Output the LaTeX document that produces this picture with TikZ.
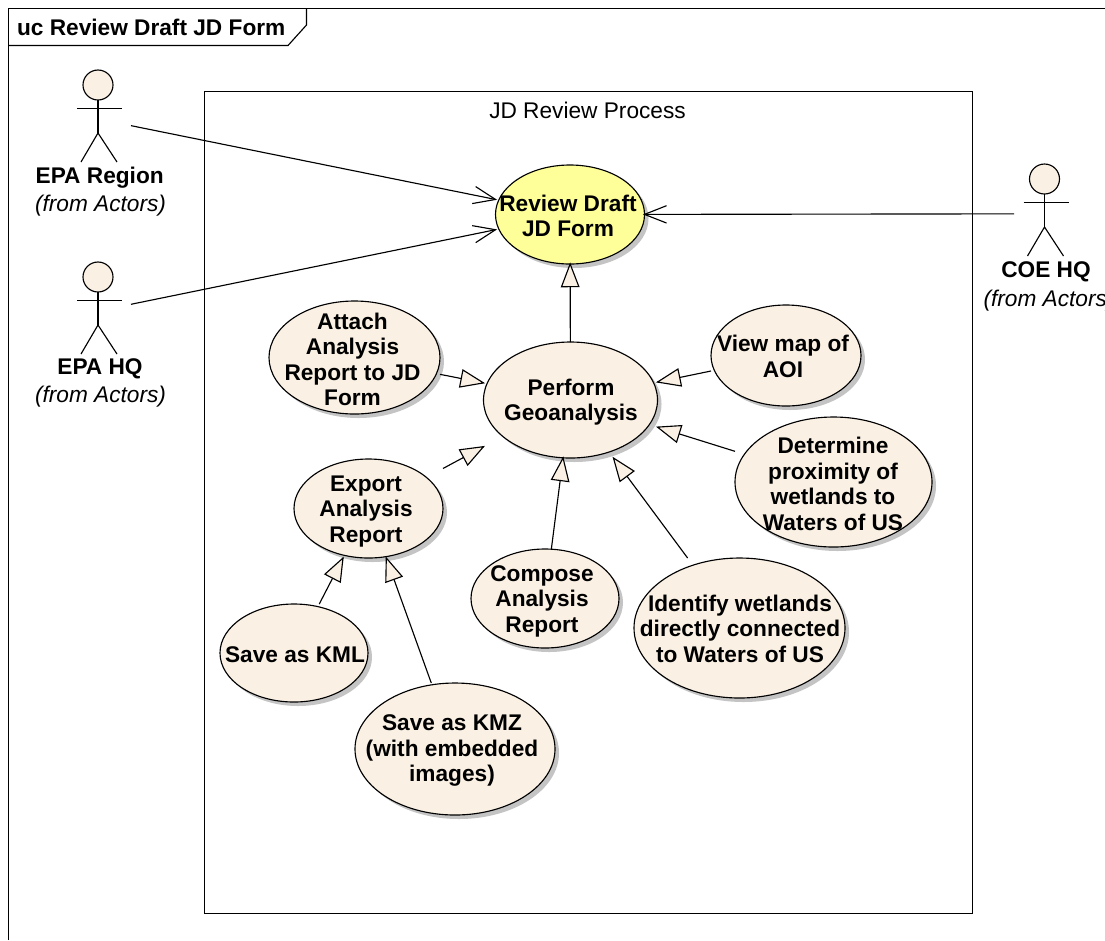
\documentclass[tikz,border=0pt]{standalone}
\usepackage{fontspec}
\setmainfont{Liberation Sans}
\usetikzlibrary{shapes.geometric,calc}
\definecolor{ucfill}{HTML}{FAF1E4}
\definecolor{ucyellow}{HTML}{FFFF99}
\definecolor{ucshadow}{HTML}{C4C4C4}
\tikzset{
  x=0.75pt,y=-0.75pt,
  usecase/.style={ellipse,draw=black,inner sep=0pt,outer sep=0pt},
  caselabel/.style={align=center,inner sep=0pt,font=\fontsize{17pt}{19.1pt}\selectfont\bfseries},
  routebox/.style={rectangle,inner sep=0pt,outer sep=0pt},
  plain/.style={inner sep=0pt,font=\fontsize{17pt}{19pt}\selectfont},
  actorname/.style={font=\fontsize{17pt}{19pt}\selectfont\bfseries,inner sep=0pt},
  actorfrom/.style={font=\fontsize{17pt}{19pt}\selectfont\itshape,inner sep=0pt},
  tabtitle/.style={anchor=west,inner sep=0pt,font=\fontsize{17pt}{19pt}\selectfont\bfseries},
}
% usecase: name, cx, cy, rx, ry, fill, text x, text y, text
\newcommand{\ucase}[9]{%
  \fill[ucshadow] (#2+4,#3+4) ellipse [x radius=#4*0.75pt,y radius=#5*0.75pt];
  \node[usecase,fill=#6,minimum width=#4*1.5pt,minimum height=#5*1.5pt] (#1) at (#2,#3) {};
  \node[routebox,minimum width=#4*1.5pt,minimum height=#5*1.5pt] (#1box) at (#2,#3) {};
  \node[caselabel] (#1text) at (#7,#8) {#9};
}
% actor: name, head cx, head cy, box cx, box cy, box half width
\newcommand{\actor}[6]{%
  \node[circle,draw=black,fill=ucfill,minimum size=22.5pt,inner sep=0pt,outer sep=0pt] (#1) at (#2,#3) {};
  \coordinate (#1hip) at (#2,#3+48);
  \draw (#1.south) -- (#1hip);
  \draw (#2-21,#3+23.5) -- (#2+24,#3+23.5);
  \draw (#2-17,#3+77) -- (#1hip) -- (#2+19,#3+77);
  \node[routebox,minimum width=#6*1.5pt,minimum height=69pt] (#1box) at (#4,#5) {};
}
% generalisation: hollow triangle head
\newcommand{\genarrow}[2]{%
  \path (#1box) -- (#2box) coordinate[pos=0] (gA) coordinate[pos=1] (gB);
  \draw (#1box) -- (#2box);
  \coordinate (gM) at ($(gB)!17pt!(gA)$);
  \filldraw[fill=ucfill,line join=miter]
   (gB) -- ($(gM)!6.5pt!90:(gB)$) -- ($(gM)!6.5pt!-90:(gB)$) -- cycle;
}
% association: open head
\newcommand{\openarrow}[2]{%
  \path (#1box) -- (#2box) coordinate[pos=0] (gA) coordinate[pos=1] (gB);
  \draw (#1box) -- (#2box);
  \coordinate (gM) at ($(gB)!16.5pt!(gA)$);
  \draw ($(gM)!6.5pt!90:(gB)$) -- (gB) -- ($(gM)!6.5pt!-90:(gB)$);
}
\begin{document}
\begin{tikzpicture}[line width=0.85pt]
\useasboundingbox (0,0) rectangle (1105,940);
\fill[white] (0,0) rectangle (1105,940);
% frame
\draw (8.5,940) -- (8.5,8.5) -- (1105,8.5);
\draw (8.5,45.5) -- (288,45.5) -- (306.5,25) -- (306.5,8.5);
\node[tabtitle] (title) at (16.5,27) {uc Review Draft JD Form};
% boundary
\draw (204.5,91.5) rectangle (972.5,913.5);
\node[plain] (boundary) at (587.5,110) {JD Review Process};
% actors
\actor{epar}{98}{85}{98}{119}{33}
\node[actorname] (eparname) at (99.7,177.5) {EPA Region};
\node[actorfrom] (eparfrom) at (100.5,206) {(from Actors)};
\actor{epah}{98}{277}{98}{311}{33}
\node[actorname] (epahname) at (100,368.5) {EPA HQ};
\node[actorfrom] (epahfrom) at (100.5,397) {(from Actors)};
\actor{coe}{1044.5}{179}{1046}{213.8}{32}
\node[actorname] (coename) at (1046,272) {COE HQ};
\node[actorfrom,anchor=west] (coefrom) at (983,301) {(from Actors)};
% use cases
\ucase{review}{570}{214.5}{74.5}{49.5}{ucyellow}{568}{216}{Review Draft\\JD Form}
\ucase{perform}{570.5}{400}{87}{58}{ucfill}{571}{402}{Perform\\Geoanalysis}
\ucase{attach}{354.5}{357.5}{85.5}{56.5}{ucfill}{352.5}{359.5}{Attach\\Analysis\\Report to JD\\Form}
\ucase{view}{786}{355.5}{75}{50.5}{ucfill}{783}{356.5}{View map of\\AOI}
\ucase{determine}{833.5}{482}{98.5}{65}{ucfill}{833}{484}{Determine\\proximity of\\wetlands to\\Waters of US}
\ucase{export}{368.5}{508.5}{74.5}{49.5}{ucfill}{366}{511.5}{Export\\Analysis\\Report}
\ucase{compose}{545}{598.5}{74}{49.5}{ucfill}{542}{601}{Compose\\Analysis\\Report}
\ucase{identify}{739.5}{628}{105.5}{70}{ucfill}{740}{628.5}{Identify wetlands\\directly connected\\to Waters of US}
\ucase{kml}{294}{653}{74}{49}{ucfill}{295}{655}{Save as KML}
\ucase{kmz}{455}{749}{100}{66}{ucfill}{452}{750.5}{Save as KMZ\\(with embedded\\images)}
% connectors
\openarrow{epar}{review}
\openarrow{epah}{review}
\openarrow{coe}{review}
\genarrow{perform}{review}
\genarrow{attach}{perform}
\genarrow{view}{perform}
\genarrow{determine}{perform}
\genarrow{export}{perform}
\genarrow{compose}{perform}
\genarrow{identify}{perform}
\genarrow{kml}{export}
\genarrow{kmz}{export}
\end{tikzpicture}
\end{document}
